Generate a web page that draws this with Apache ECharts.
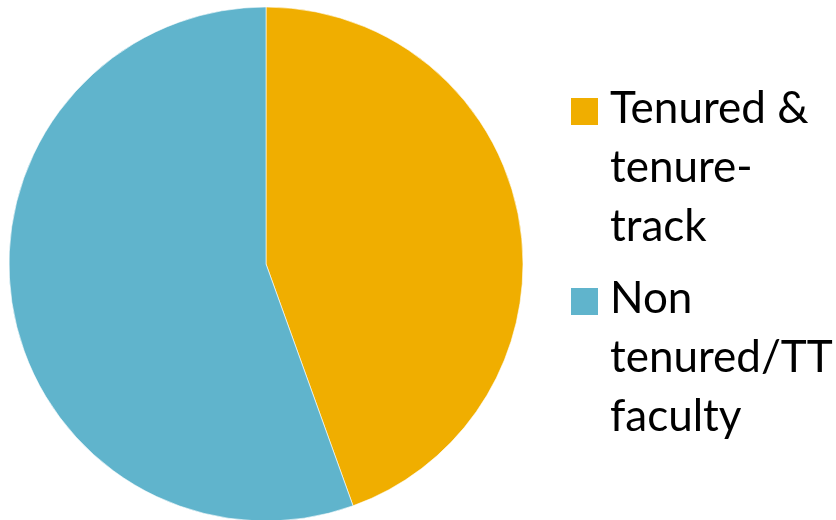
<!DOCTYPE html>
<html>
<head>
<meta charset="utf-8">
<script src="https://cdn.jsdelivr.net/npm/echarts@6/dist/echarts.min.js"></script>
<style>
  html, body { margin: 0; padding: 0; background: #ffffff; }
  #chart { width: 836px; height: 520px; }
</style>
</head>
<body>
<div id="chart"></div>
<script>
// Faculty composition by appointment type
const categories = ['Tenured & tenure-track', 'Non tenured/TT faculty'];
const legendLabels = ['Tenured &\ntenure-\ntrack', 'Non\ntenured/TT\nfaculty'];
const shares = [44.5, 55.5];
const colors = ['#F0AE00', '#60B4CC'];

const chart = echarts.init(document.getElementById('chart'), null, { renderer: 'canvas' });

// Legend blocks: square swatch beside a three-line label
const legendTop = [98, 288];
const legendGraphics = [];
categories.forEach(function (name, i) {
  legendGraphics.push({
    type: 'rect',
    left: 571,
    top: legendTop[i],
    shape: { width: 27, height: 27 },
    style: { fill: colors[i] }
  });
  legendGraphics.push({
    type: 'text',
    left: 610,
    top: legendTop[i] - 19,
    style: {
      text: legendLabels[i],
      font: '44px Lato',
      lineHeight: 59,
      fill: '#000000'
    }
  });
});

chart.setOption({
  animation: false,
  color: colors,
  series: [{
    type: 'pie',
    center: [266, 264],
    radius: 257,
    startAngle: 90,
    clockwise: true,
    label: { show: false },
    labelLine: { show: false },
    emphasis: { disabled: true },
    itemStyle: { borderColor: '#ffffff', borderWidth: 0.6 },
    data: categories.map(function (name, i) {
      return { name: name, value: shares[i] };
    })
  }],
  graphic: legendGraphics
});
</script>
</body>
</html>
